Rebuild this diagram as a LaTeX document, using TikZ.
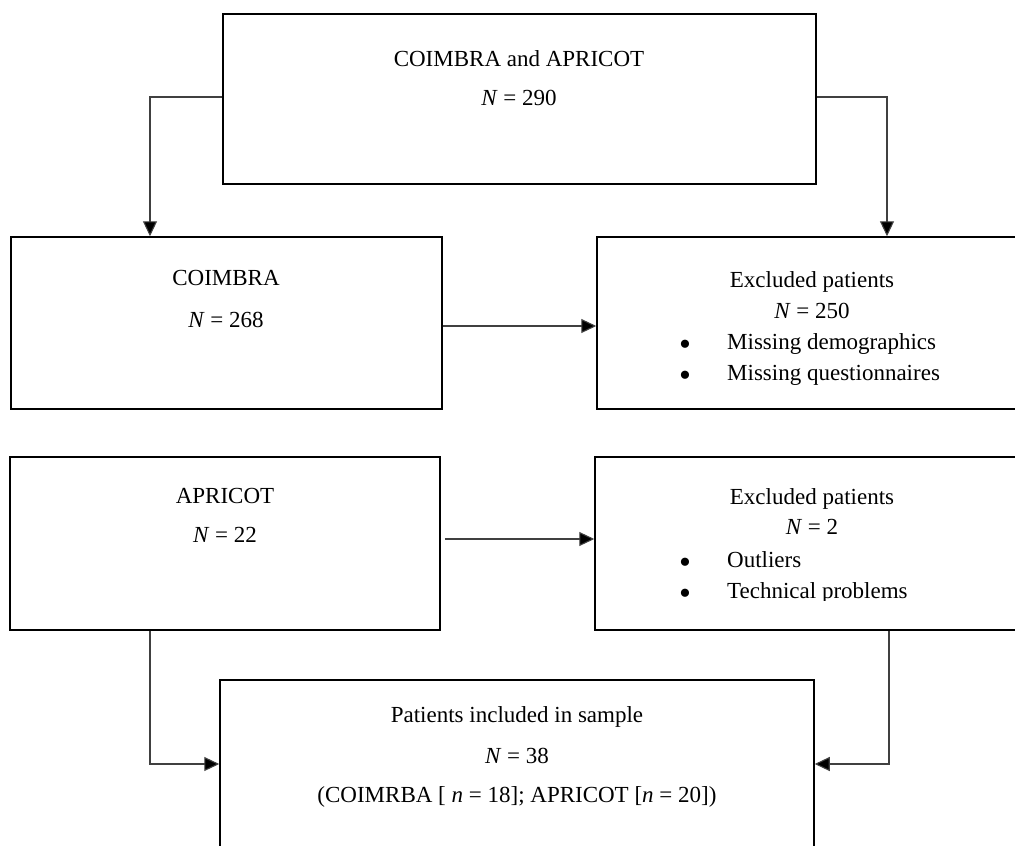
\documentclass[tikz,border=0pt]{standalone}
\usepackage{fontspec}
\setmainfont{Liberation Serif}
\usetikzlibrary{arrows.meta}
\begin{document}
\begin{tikzpicture}[x=1pt,y=-1pt,
  box/.style={draw, line width=1.5pt, inner sep=0pt},
  conn/.style={draw=black!75, line width=1.1pt, -{Triangle[width=14pt,length=15pt,fill=black]}},
  txt/.style={anchor=base, inner sep=0pt, font=\fontsize{23}{28}\selectfont},
  ltxt/.style={txt, anchor=base west},
  bul/.style={anchor=center, inner sep=0pt, font=\fontsize{34}{34}\selectfont}]
\useasboundingbox (0,0) rectangle (1015,846);
% boxes
\node[box, minimum width=593pt, minimum height=170pt] (top) at (519.5,99) {};
\node[box, minimum width=431pt, minimum height=172pt] (coim) at (226.5,323) {};
\node[box, minimum width=425pt, minimum height=172pt] (exc1) at (809.5,323) {};
\node[box, minimum width=430pt, minimum height=173pt] (apri) at (225,543.5) {};
\node[box, minimum width=427pt, minimum height=173pt] (exc2) at (808.5,543.5) {};
\node[box, minimum width=594pt, minimum height=220pt] (incl) at (517,790) {};
% texts
\node[txt] (t1) at (519,66) {COIMBRA and APRICOT};
\node[txt] (t2) at (519,105) {\textit{N} = 290};
\node[txt] (c1) at (226,285) {COIMBRA};
\node[txt] (c2) at (226,327) {\textit{N} = 268};
\node[txt] (e1) at (812,287) {Excluded patients};
\node[txt] (e2) at (812,318) {\textit{N} = 250};
\node[bul] (eb1) at (685,348) {•};
\node[ltxt] (e3) at (727,349) {Missing demographics};
\node[bul] (eb2) at (685,379) {•};
\node[ltxt] (e4) at (727,380) {Missing questionnaires};
\node[txt] (a1) at (225,503) {APRICOT};
\node[txt] (a2) at (225,542) {\textit{N} = 22};
\node[txt] (f1) at (812,504) {Excluded patients};
\node[txt] (f2) at (812,534) {\textit{N} = 2};
\node[bul] (fb1) at (685,566) {•};
\node[ltxt] (f3) at (727,567) {Outliers};
\begin{scope}
\clip (590,580) rectangle (1015,600.5);
\node[bul] (fb2) at (685,597) {•};
\node[ltxt] (f4) at (727,598) {Technical problems};
\end{scope}
\node[txt] (i1) at (517,722) {Patients included in sample};
\node[txt] (i2) at (517,763) {\textit{N} = 38};
\node[txt] (i3) at (517,802) {(COIMRBA [ \textit{n} = 18]; APRICOT [\textit{n} = 20])};
% connectors
\draw[conn] ([yshift=2pt]top.west) -| ([xshift=-76.5pt]coim.north);
\draw[conn] ([yshift=2pt]top.east) -| ([xshift=77.5pt]exc1.north);
\draw[conn] ([yshift=-3pt]coim.east) -- ([yshift=-3pt]exc1.west);
\draw[conn] ([xshift=4pt,yshift=4.5pt]apri.east) -- ([yshift=4.5pt]exc2.west);
\draw[conn] ([xshift=-75pt]apri.south) |- ([yshift=26pt]incl.west);
\draw[conn] ([xshift=80.5pt]exc2.south) |- ([yshift=26pt]incl.east);
\end{tikzpicture}
\end{document}
